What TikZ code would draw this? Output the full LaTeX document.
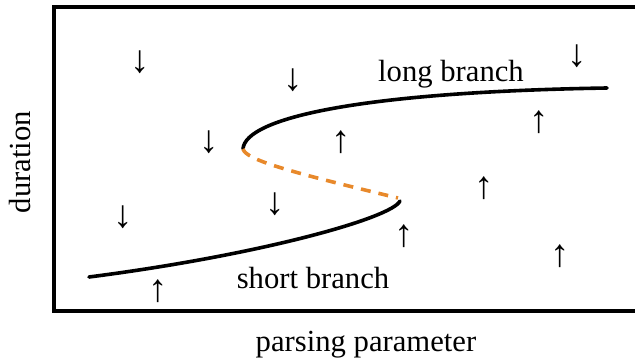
\documentclass[tikz,border=0pt]{standalone}
\usepackage{fontspec}
\setmainfont{Liberation Serif}
\begin{document}
\begin{tikzpicture}[x=0.75pt,y=-0.75pt,
  label/.style={font=\fontsize{23}{26}\selectfont, inner sep=0pt, anchor=base},
  flow/.style={font=\fontsize{29}{32}\selectfont, inner sep=0pt},
  branch/.style={line width=2.7pt, line cap=round},
  unstable/.style={line width=2.7pt, draw={rgb,255:red,232;green,137;blue,43}, dash pattern=on 7.5pt off 6pt}]
\clip (0,0) rectangle (635,363);
% frame of the plot
\draw[line width=3pt] (54,7) rectangle (660,311);

% turning points of the S-curve
\coordinate (upper) at (243,149);
\coordinate (lower) at (400,201);

% stable long branch
\draw[branch] (upper) .. controls (245,118) and (360,92) .. (607,88);
% unstable middle branch
\draw[unstable] (upper) .. controls (246,160) and (290,172) .. (398,198);
% stable short branch
\draw[branch] (lower) .. controls (392,218) and (260,255) .. (89,277);

% labels
\node[label] (long) at (451,82) {long branch};
\node[label] (short) at (313,288) {short branch};
\node[label] (xlab) at (366,351) {parsing parameter};
\node[label, rotate=90] (ylab) at (30,162) {duration};

% flow directions
\node[flow] (d1) at (140,62) {↓};
\node[flow] (d2) at (293,80) {↓};
\node[flow] (d3) at (209,142) {↓};
\node[flow] (d4) at (577,56) {↓};
\node[flow] (d5) at (123,217) {↓};
\node[flow] (d6) at (275,204) {↓};
\node[flow] (u1) at (341,142) {↑};
\node[flow] (u2) at (539,122) {↑};
\node[flow] (u3) at (404,236) {↑};
\node[flow] (u4) at (560,256) {↑};
\node[flow] (u5) at (158,291) {↑};
\node[flow] (u6) at (484,188) {↑};
\end{tikzpicture}
\end{document}
